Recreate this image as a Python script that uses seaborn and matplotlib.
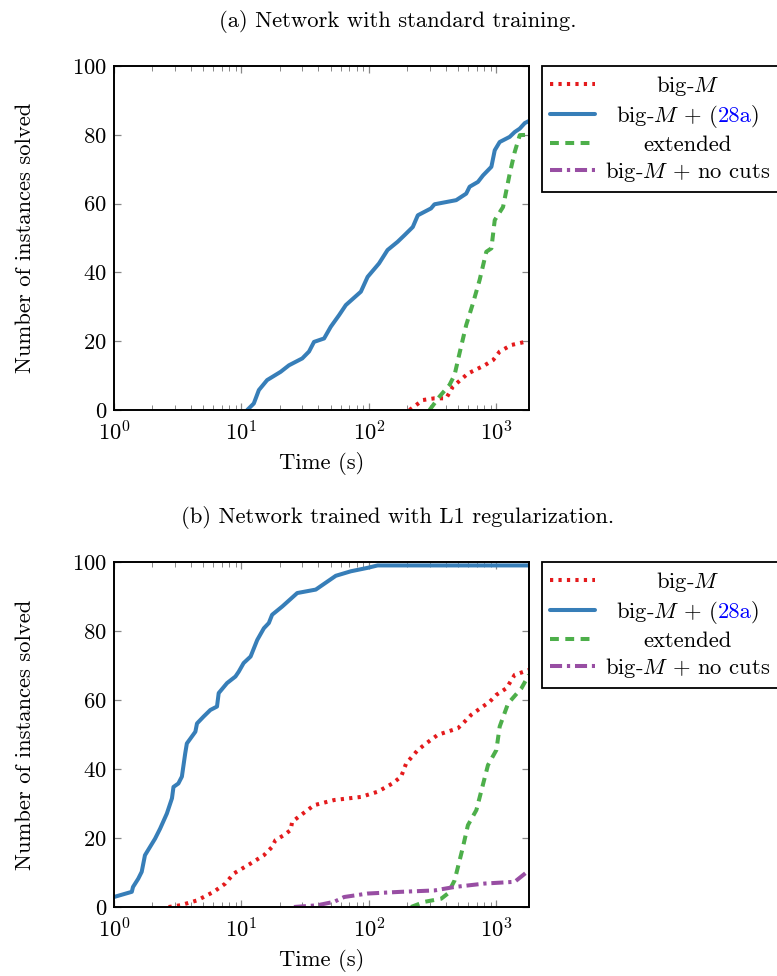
import numpy as np
import pandas as pd
import matplotlib
matplotlib.use("Agg")
import matplotlib.pyplot as plt
import seaborn as sns

# ---------- dados ----------
# (a) rede com treino padrão
a_bigm_t = [208, 265, 327, 404, 456, 598, 809, 942, 1062, 1313, 1671, 1750]
a_bigm_n = [0, 2.9, 3.4, 3.4, 6.8, 10.6, 13, 14.5, 17, 18.9, 19.8, 20]

a_cuts_t = [11.1, 12.5, 13.7, 15.9, 20.3, 23.6, 30, 33.9, 37.1, 44.5, 50.2, 58.4, 65.9,
            86.5, 97.7, 120, 140, 168, 190, 221, 242, 307, 327, 484, 580, 617, 717,
            786, 914, 971, 1062, 1273, 1393, 1527, 1671, 1800]
a_cuts_n = [0, 1.9, 5.8, 8.7, 11.1, 13, 15, 17, 19.8, 20.8, 24.2, 27.6, 30.5,
            34.4, 38.7, 42.6, 46.5, 48.9, 50.8, 53.2, 56.6, 58.6, 59.8, 61, 62.9, 64.9, 66.3,
            68.2, 70.7, 75.5, 77.9, 79.4, 80.8, 81.8, 83.4, 84]

a_ext_t = [299, 358, 429, 470, 514, 580, 655, 739, 834, 914, 971, 1128, 1199, 1273, 1393, 1527, 1800]
a_ext_n = [0, 3.9, 7.3, 10.2, 16.5, 24.7, 31, 37.8, 46, 47, 55.2, 59, 63.9, 68.7, 75, 79.9, 80]

a_nocut_t = []
a_nocut_n = []

# (b) rede treinada com regularização L1
b_bigm_t = [2.68, 3.31, 4.48, 6.06, 7.48, 8.7, 11.8, 15, 17.4, 18.5, 21.5, 24.3, 25, 29.2,
            37.1, 53.3, 86.5, 117, 153, 179, 196, 242, 281, 347, 499, 563, 635, 717,
            887, 1000, 1199, 1393, 1800]
b_bigm_n = [0, 0.5, 1.9, 4.4, 6.8, 9.7, 12.6, 15, 17.4, 19.4, 20.8, 22.3, 24.7, 26.6,
            29.5, 31, 31.9, 33.4, 35.8, 37.8, 41.6, 45.5, 47.4, 49.9, 51.8, 53.7, 55.7, 57.1,
            59.5, 61.5, 63.4, 67.3, 68.7]

b_cuts_t = [1, 1.38, 1.41, 1.55, 1.65, 1.75, 2.1, 2.3, 2.6, 2.85, 2.93, 3.2, 3.41, 3.62,
            3.73, 4.35, 4.48, 5.05, 5.7, 6.43, 6.63, 7.71, 8.97, 9.52, 10.4, 11.8, 13.3,
            15, 16.4, 17.4, 20.9, 27.4, 38.3, 55, 72.1, 97.6, 117, 1800]
b_cuts_n = [2.9, 4.4, 5.8, 8.2, 10.2, 15, 19.8, 22.7, 27.1, 31.5, 34.8, 35.8, 37.8, 44.5,
            47.4, 50.8, 53.2, 55.2, 57.1, 58.1, 62, 64.9, 66.8, 68.2, 70.7, 72.6, 77.4,
            80.8, 82.3, 84.7, 87.1, 91, 92, 96, 97.3, 98.3, 99, 99]

b_ext_t = [214, 273, 369, 416, 470, 547, 598, 697, 859, 1000, 1062, 1236, 1573, 1800]
b_ext_n = [0, 1.5, 2.4, 3.9, 7.7, 17.4, 23.7, 28.1, 41.1, 45.5, 52.3, 59, 63.4, 67.3]

b_nocut_t = [25.8, 39.4, 53.3, 64, 97.6, 179, 327, 470, 809, 1393, 1800]
b_nocut_n = [0, 0.5, 1.5, 2.9, 3.9, 4.4, 4.8, 5.8, 6.8, 7.3, 10.6]

ROTULOS = ["big-$M$", "big-$M$ + (28a)", "extended", "big-$M$ + no cuts"]
CORES = ["#e41a1c", "#377eb8", "#4daf4a", "#984ea3"]
ESTILOS = [(0, (0.8, 1.3)), "-", (0, (2.2, 1.6)), (0, (3, 1.2, 0.8, 1.2))]

TITULOS = ["(a) Network with standard training.", "(b) Network trained with L1 regularization."]

# ---------- estilo ----------
sns.set_style("ticks")
FS = 16.3
plt.rcParams.update({
    "font.family": ["cmr10", "DejaVu Serif"],
    "mathtext.fontset": "cm",
    "axes.formatter.use_mathtext": True,
    "axes.unicode_minus": False,
    "font.size": FS,
    "text.color": "black",
    "axes.labelcolor": "black",
    "axes.linewidth": 1.3,
    "axes.edgecolor": "black",
})

fig = plt.figure(figsize=(7.77, 9.76), dpi=100)
ax_a = fig.add_axes([0.1467, 0.5799, 0.534, 0.3525])
ax_b = fig.add_axes([0.1467, 0.0707, 0.534, 0.3535])

series = {
    ax_a: [(a_bigm_t, a_bigm_n), (a_cuts_t, a_cuts_n), (a_ext_t, a_ext_n), (a_nocut_t, a_nocut_n)],
    ax_b: [(b_bigm_t, b_bigm_n), (b_cuts_t, b_cuts_n), (b_ext_t, b_ext_n), (b_nocut_t, b_nocut_n)],
}

legendas = []
for ax in (ax_a, ax_b):
    for (t, n), lab, cor, ls in zip(series[ax], ROTULOS, CORES, ESTILOS):
        if len(t) == 0:
            ax.plot([], [], color=cor, linestyle=ls, lw=2.9, label=lab)
            continue
        df = pd.DataFrame({"t": t, "n": n})
        sns.lineplot(data=df, x="t", y="n", ax=ax, color=cor, linestyle=ls, lw=2.9,
                     label=lab, estimator=None, sort=False,
                     solid_joinstyle="round", dash_capstyle="butt")
    ax.set_xscale("log")
    ax.set_xlim(1, 1800)
    ax.set_ylim(0, 100)
    ax.set_yticks([0, 20, 40, 60, 80, 100])
    ax.set_xlabel("Time (s)", fontsize=FS, labelpad=5)
    ax.set_ylabel("Number of instances solved", fontsize=FS, labelpad=27)
    ax.tick_params(which="both", direction="in", top=True, right=True, color="#888888",
                   labelsize=FS, labelcolor="black")
    ax.tick_params(which="major", length=5, width=0.9, pad=5)
    ax.tick_params(axis="x", which="major", pad=7.5)
    ax.tick_params(which="minor", length=3.5, width=0.7)
    for s in ax.spines.values():
        s.set_linewidth(1.4)
    leg = ax.legend(loc="upper left", bbox_to_anchor=(1.031, 1.0), borderaxespad=0,
                    frameon=True, fancybox=False, edgecolor="black", framealpha=1,
                    fontsize=FS, handlelength=2.0, handletextpad=0.45, labelspacing=0.22,
                    borderpad=0.35)
    leg.get_frame().set_linewidth(1.3)
    legendas.append(leg)

fig.text(0.512, 0.9775, TITULOS[0], ha="center", va="center", fontsize=FS)
fig.text(0.512, 0.4693, TITULOS[1], ha="center", va="center", fontsize=FS)

# textos da legenda centralizados e "28a" em azul
fig.canvas.draw()
r = fig.canvas.get_renderer()
inv = fig.transFigure.inverted()


def largura(s, fp):
    tmp = fig.text(0, 0, s, fontproperties=fp)
    w = tmp.get_window_extent(r).width
    tmp.remove()
    return w


for leg in legendas:
    textos = leg.get_texts()
    caixas = [t.get_window_extent(r) for t in textos]
    x0 = min(b.x0 for b in caixas)
    x1 = max(b.x1 for b in caixas)
    cx = (x0 + x1) / 2
    for t, b in zip(textos, caixas):
        fp = t.get_fontproperties()
        yb = t.get_transform().transform((0, 0))[1]
        s = t.get_text()
        t.set_alpha(0)
        if "(28a)" in s:
            partes = [("big-$M$ + (", "black"), ("28a", "blue"), (")", "black")]
            ws = [largura(p, fp) for p, _ in partes]
            x = cx - sum(ws) / 2
            for (p, c), w in zip(partes, ws):
                fx, fy = inv.transform((x, yb))
                fig.text(fx, fy, p, color=c, fontproperties=fp, ha="left", va="baseline")
                x += w
        else:
            fx, fy = inv.transform((cx, yb))
            fig.text(fx, fy, s, fontproperties=fp, ha="center", va="baseline")

fig.savefig("out.png", dpi=100)
